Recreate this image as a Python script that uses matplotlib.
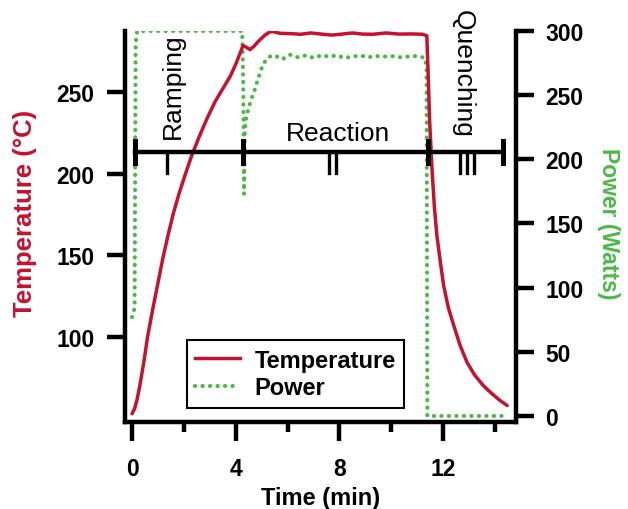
import matplotlib
matplotlib.use("Agg")
import matplotlib.pyplot as plt
from matplotlib.lines import Line2D

plt.rcParams['font.family'] = ['Liberation Sans', 'DejaVu Sans']

# Reactor temperature log (minutes, deg C)
temp_time = [0.0, 0.1, 0.2, 0.3, 0.45, 0.6, 0.8, 1.0, 1.2, 1.4, 1.6, 1.8, 2.0,
             2.3, 2.6, 2.9, 3.2, 3.5, 3.8, 4.0, 4.15, 4.28, 4.4, 4.55, 4.7,
             4.9, 5.1, 5.3, 5.45, 5.7, 6.1, 6.5, 6.9, 7.3, 7.7, 8.1, 8.5, 8.9,
             9.3, 9.8, 10.3, 10.8, 11.2, 11.37, 11.42, 11.48, 11.57, 11.66,
             11.76, 11.9, 12.02, 12.2, 12.41, 12.65, 12.92, 13.2, 13.56,
             13.9, 14.2, 14.47]
temp_vals = [53, 56, 62, 70, 84, 100, 117, 133, 149, 163, 176, 187, 197,
             211, 223, 234, 244, 252, 260, 267, 273, 278.5, 277.5, 276, 278,
             281.5, 284.5, 286.8, 287, 286, 285.8, 285.4, 286.2, 285.5, 284.9,
             285.5, 286.2, 285.5, 285.4, 286.2, 285.5, 285.6, 285.4, 284.5,
             262, 232, 203, 180, 162, 145, 131.4, 118, 107, 95, 84.5, 77, 70,
             65, 61, 58]

# Microwave power log (minutes, W)
power_time = [0.0, 0.1, 0.14, 0.2, 4.25, 4.29, 4.32, 4.35, 4.4, 4.5, 4.6,
              4.7, 4.85, 5.0, 5.15, 5.3, 5.5, 5.8, 6.1, 6.4, 6.7, 7.0, 7.3,
              7.6, 7.9, 8.2, 8.5, 8.8, 9.1, 9.4, 9.7, 10.0, 10.3, 10.6, 10.9,
              11.1, 11.3, 11.36, 11.39, 14.45]
power_vals = [77, 84, 290, 300, 300, 260, 173, 222, 232, 240, 247, 252, 262,
              271, 277, 280, 281, 278, 281.5, 279.5, 281, 279, 281, 280, 281,
              279, 280, 281, 279.5, 280.5, 280, 280.5, 279.5, 280, 280.5, 280,
              279, 272, 0, 0]

# Process stages along the time axis
stage_edges = [0.1, 4.29, 11.4, 14.3]
stage_names = ["Ramping", "Reaction", "Quenching"]
stage_marks = [[1.34], [7.61, 7.88], [12.64, 12.92, 13.2]]
stage_level = 213.3

x_ticks = [0, 4, 8, 12]
x_minor = [2, 6, 10, 14]
temp_ticks = [100, 150, 200, 250]
power_ticks = [0, 50, 100, 150, 200, 250, 300]

RED = '#c4122f'
GREEN = '#4cb848'
DOTS = (0, (0.05, 1.75))
DOT_LW = 3.0

fig = plt.figure(figsize=(6.28, 5.10), dpi=100)
ax = fig.add_axes([125 / 628, 87 / 510, 391 / 628, 391 / 510])
ax2 = ax.twinx()
# temperature axes sits above the power axes
ax.set_zorder(ax2.get_zorder() + 1)
ax.patch.set_visible(False)

ax.plot(temp_time, temp_vals, color=RED, lw=2.5, solid_capstyle='round',
        zorder=3)
ax2.plot(power_time, power_vals, color=GREEN, lw=DOT_LW,
         linestyle=DOTS, dash_capstyle='round', zorder=3)

ax.set_xlim(-0.27, 14.81)
ax.set_ylim(47.9, 287.4)
ax2.set_ylim(-4.7, 300)

ax.set_xticks(x_ticks)
ax.set_xticks(x_minor, minor=True)
ax.set_yticks(temp_ticks)
ax2.set_yticks(power_ticks)

SPW = 3.2
for s in ['top', 'right']:
    ax.spines[s].set_visible(False)
for s in ['top', 'left', 'bottom']:
    ax2.spines[s].set_visible(False)
for s in ['left', 'bottom']:
    ax.spines[s].set_linewidth(SPW)
ax2.spines['right'].set_linewidth(SPW)

tick_font = dict(family='Liberation Sans', weight='bold', size=16.5)
ax.tick_params(axis='x', which='major', direction='out', length=14,
               width=SPW, pad=11)
ax.tick_params(axis='x', which='minor', direction='out', length=7.5,
               width=SPW)
ax.tick_params(axis='y', which='major', direction='out', length=13,
               width=SPW, pad=9)
ax2.tick_params(axis='y', which='major', direction='out', length=13,
                width=SPW, pad=8)
for lab in ax.get_xticklabels() + ax.get_yticklabels() + ax2.get_yticklabels():
    lab.set_fontproperties(tick_font)

ax.set_xlabel("Time (min)", fontsize=17, fontweight='bold')
ax.xaxis.set_label_coords(0.5, -0.164)
ax.set_ylabel("Temperature (°C)", fontsize=18.5, fontweight='bold', color=RED)
ax.yaxis.set_label_coords(-0.224, 0.535)
ax2.set_ylabel("Power (Watts)", fontsize=16.5, fontweight='bold',
               color=GREEN, rotation=270, va='bottom')
ax2.yaxis.set_label_coords(1.208, 0.51)

# Stage bar with end caps and roman-numeral marks
ax.plot([stage_edges[0], stage_edges[-1]], [stage_level, stage_level],
        color='black', lw=3.2, clip_on=False, zorder=4)
for e in stage_edges:
    ax.plot([e, e], [stage_level - 7, stage_level + 7], color='black',
            lw=3.6, clip_on=False, zorder=4)
for marks in stage_marks:
    for m in marks:
        ax.plot([m, m], [stage_level, stage_level - 13], color='black',
                lw=2.4, clip_on=False, zorder=4)

ann_font = dict(family='Liberation Sans', size=19)
ax.text(1.58, 254, stage_names[0], rotation=90, ha='center', va='center',
        **ann_font)
ax.text(7.95, 220.6, stage_names[1], rotation=0, ha='center',
        va='baseline', **ann_font)
ax.text(12.74, 261.6, stage_names[2], rotation=270, ha='center',
        va='center', clip_on=False, **ann_font)

handles = [Line2D([], [], color=RED, lw=2.5),
           Line2D([], [], color=GREEN, lw=DOT_LW, linestyle=DOTS,
                  dash_capstyle='round')]
leg = ax.legend(handles, ["Temperature", "Power"], loc='upper left',
                bbox_to_anchor=(0.1586, 0.209), frameon=True, fancybox=False,
                edgecolor='black', framealpha=1,
                prop=dict(family='Liberation Sans', weight='bold', size=17),
                handlelength=1.9, handletextpad=0.6, labelspacing=0.2,
                borderpad=0.35, borderaxespad=0)
leg.get_frame().set_linewidth(1.5)

fig.savefig("out.png", dpi=100)
